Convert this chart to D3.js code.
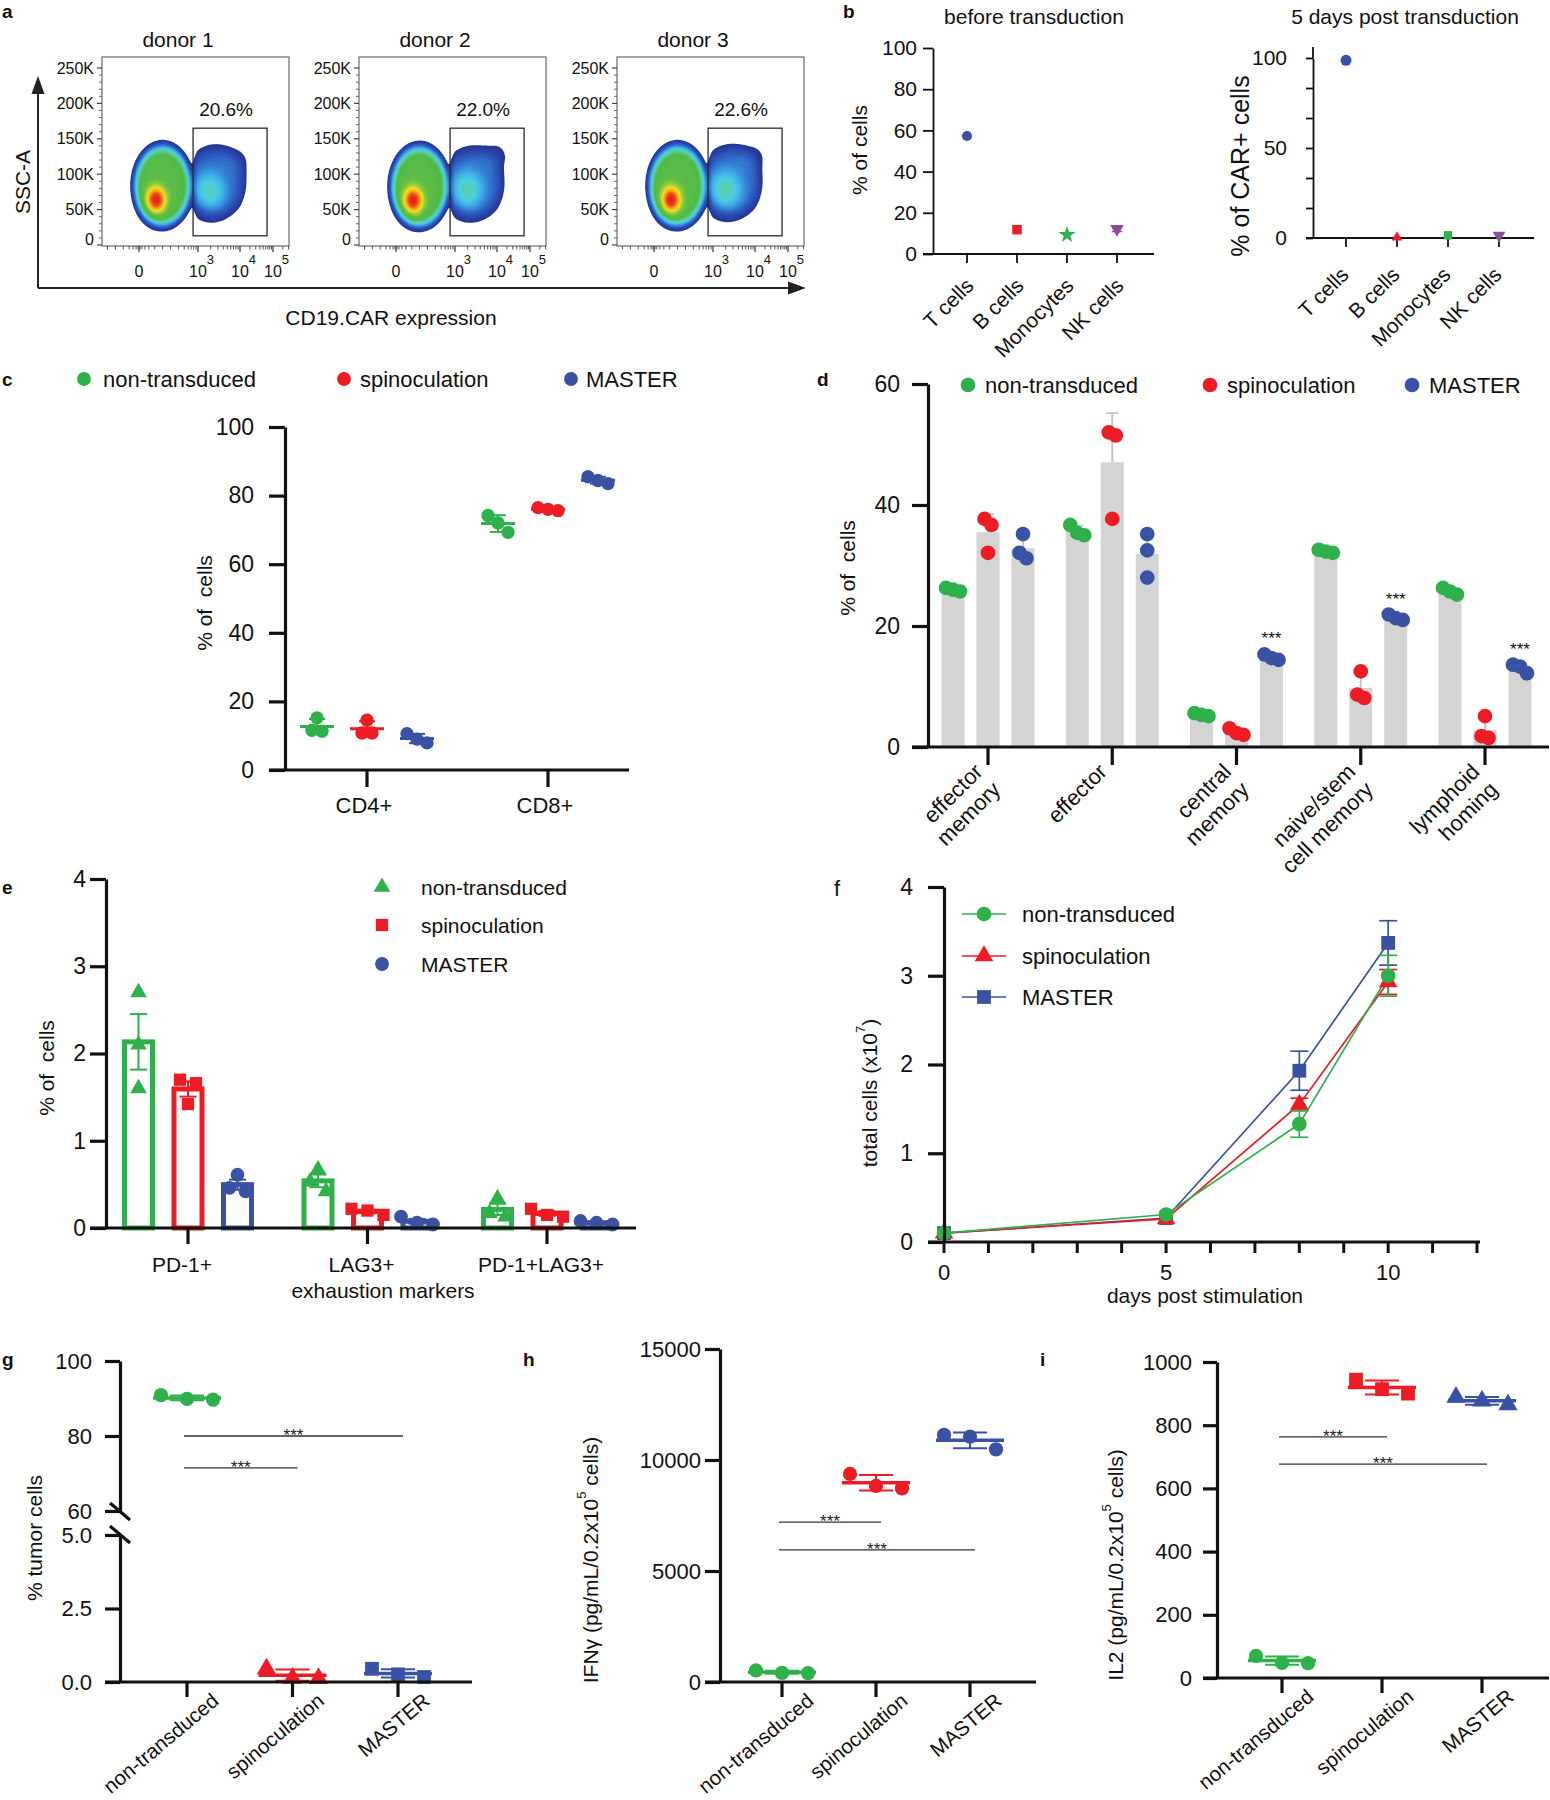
<!DOCTYPE html>
<html><head><meta charset="utf-8">
<script src="https://cdn.jsdelivr.net/npm/d3@7/dist/d3.min.js"></script>
<style>html,body{margin:0;padding:0;background:#fff}svg{display:block}</style>
</head><body>
<svg id="fig" width="1550" height="1800" xmlns="http://www.w3.org/2000/svg"></svg>
<script>
// ======================= DATA =======================
// (a) flow cytometry: SSC-A (K) vs CD19.CAR (display decades)
const donors = ["donor 1", "donor 2", "donor 3"];
const gatePercents = ["20.6%", "22.0%", "22.6%"];
const flowYTicks = [0, 50, 100, 150, 200, 250];
const flowYTickLabels = ["0", "50K", "100K", "150K", "200K", "250K"];
const flowXTicks = [0, 3, 4, 5];
const flowXTickBase = ["0", "10", "10", "10"];
const flowXTickExp = ["", "3", "4", "5"];
const flowGateX = [2.75, 4.82];
const flowGateY = [13, 165];
// populations per donor: [negative body, negative core, CAR+ body, CAR+ core, CAR+ upper shoulder]
const flowPopX  = [[1.20, 0.87, 3.42, 3.28, 3.90], [1.20, 0.87, 3.44, 3.30, 3.95], [1.20, 0.87, 3.44, 3.30, 3.92]];
const flowPopY  = [[84, 64, 90, 76, 118], [83, 63, 88, 78, 124], [84, 64, 90, 78, 122]];
const flowPopSX = [[1.30, 0.40, 0.62, 0.28, 0.25], [1.30, 0.40, 0.63, 0.28, 0.22], [1.30, 0.40, 0.63, 0.28, 0.24]];
const flowPopSY = [[51, 15, 42, 20, 12], [51, 15, 42, 20, 12], [51, 15, 42, 20, 12]];
const flowPopW  = [[0.55, 0.50, 0.13, 0.22, 0.035], [0.55, 0.50, 0.135, 0.23, 0.05], [0.55, 0.50, 0.14, 0.23, 0.045]];
const flowPopQ  = [[8, 2, 6, 2, 2], [8, 2, 6, 2, 2], [8, 2, 6, 2, 2]];

// (b)
const bCategories = ["T cells", "B cells", "Monocytes", "NK cells"];
const bBeforeValues = [57.3, 11.8, 9.3, 12.2];
const bBeforeErrors = [0, 0, 0, 1.3];
const bAfterValues = [98.7, 0.3, 1.5, 1.5];
const bBeforeTicks = [0, 20, 40, 60, 80, 100];
const bAfterLabelled = [0, 50, 100];

// (c) % CD4+/CD8+
const cCategories = ["CD4+", "CD8+"];
const cNonTransduced = [[15.2, 11.3, 11.6], [74.2, 69.3, 72.0]];
const cSpinoculation = [[14.5, 10.8, 10.8], [76.5, 75.6, 76.0]];
const cMaster = [[7.9, 10.6, 9.0], [83.5, 85.5, 84.4]];
const cTicks = [0, 20, 40, 60, 80, 100];

// (d) memory phenotypes
const dCategories = ["effector\nmemory", "effector", "central\nmemory", "naive/stem\ncell memory", "lymphoid\nhoming"];
const dNonTransduced = [[26.0, 26.3, 25.7], [36.7, 35.4, 35.0], [5.6, 5.3, 5.1], [32.6, 32.3, 32.1], [26.3, 25.7, 25.2]];
const dSpinoculation = [[37.7, 36.7, 32.1], [52.0, 51.5, 37.7], [3.1, 2.3, 2.0], [12.5, 8.65, 8.1], [5.1, 1.8, 1.5]];
const dMaster = [[35.2, 32.1, 31.2], [35.2, 32.5, 28.0], [15.3, 14.7, 14.4], [21.9, 21.3, 21.0], [12.2, 13.6, 13.3]];
const dMasterSignificant = [false, false, true, true, true];
const dTicks = [0, 20, 40, 60];

// (e) exhaustion markers
const eCategories = ["PD-1+", "LAG3+", "PD-1+LAG3+"];
const eNonTransduced = [[2.70, 2.10, 1.60], [0.67, 0.53, 0.42], [0.34, 0.17, 0.13]];
const eSpinoculation = [[1.70, 1.66, 1.42], [0.22, 0.20, 0.15], [0.22, 0.15, 0.13]];
const eMaster = [[0.61, 0.46, 0.42], [0.13, 0.06, 0.04], [0.08, 0.06, 0.04]];
const eTicks = [0, 1, 2, 3, 4];

// (f) expansion
const fDays = [0, 5, 8, 10];
const fNonTransduced = [0.10, 0.31, 1.33, 3.00];
const fNonTransducedErr = [0, 0.02, 0.15, 0.23];
const fSpinoculation = [0.10, 0.26, 1.55, 2.93];
const fSpinoculationErr = [0, 0.02, 0.07, 0.14];
const fMaster = [0.10, 0.27, 1.93, 3.37];
const fMasterErr = [0, 0.02, 0.22, 0.25];
const fYTicks = [0, 1, 2, 3, 4];
const fXLabelled = [0, 5, 10];

// (g)(h)(i)
const ghiCategories = ["non-transduced", "spinoculation", "MASTER"];
const gValues = [[89.7, 90.9, 89.9], [0.13, 0.45, 0.12], [0.17, 0.45, 0.26]];
const gTopTicks = [60, 80, 100];
const gBottomTicks = [0, 2.5, 5];
const gSigFrom = [0, 0], gSigTo = [2, 1], gSigY = [80, 71.5];
const hValues = [[400, 520, 410], [9370, 8720, 8830], [10480, 11130, 11050]];
const hTicks = [0, 5000, 10000, 15000];
const hSigFrom = [0, 0], hSigTo = [1, 2], hSigY = [7200, 5950];
const iValues = [[47, 70, 48], [944, 900, 914], [865, 889, 877]];
const iTicks = [0, 200, 400, 600, 800, 1000];
const iSigFrom = [0, 0], iSigTo = [1, 2], iSigY = [763, 677];

const seriesNames = ["non-transduced", "spinoculation", "MASTER"];

// ======================= DRAWING =======================
const svg = d3.select("#fig");
const FONT = "'Liberation Sans', Arial, Helvetica, sans-serif";
svg.attr("font-family", FONT);
svg.append("rect").attr("width", 1550).attr("height", 1800).attr("fill", "#fff");
const GREEN = "#2eb14b", RED = "#ed1c24", BLUE = "#3a52a3", PURPLE = "#8c4f9f", BARGRAY = "#d4d4d4", INK = "#111";
const SC = [GREEN, RED, BLUE];
const intFmt = d3.format("d");

function text(g, t, x, y, o = {}) {
  return g.append("text").attr("x", x).attr("y", y).attr("font-size", o.fs || 21)
    .attr("fill", o.fill || INK).attr("text-anchor", o.anchor || "start")
    .attr("font-weight", o.bold ? "bold" : "normal").style("white-space", "pre").text(t);
}
function vLabel(parts, cx, cy, fs) {
  const t = svg.append("text").attr("transform", `translate(${cx},${cy}) rotate(-90)`)
    .attr("text-anchor", "middle").attr("dominant-baseline", "central")
    .attr("font-size", fs).attr("fill", INK).style("white-space", "pre");
  let shift = 0;
  parts.forEach(p => {
    if (typeof p === "string") { const ts = t.append("tspan").text(p); if (shift) { ts.attr("dy", shift); shift = 0; } }
    else { const s = fs * 0.42; t.append("tspan").attr("dy", -s).attr("font-size", fs * 0.62).text(p.sup); shift = s; }
  });
}
function rotText(g, x, y, angle, lines, fs, lh = 1.12) {
  const t = g.append("text").attr("transform", `translate(${x},${y}) rotate(${angle})`)
    .attr("text-anchor", "end").attr("font-size", fs).attr("fill", INK);
  lines.forEach((l, i) => t.append("tspan").attr("x", 0).attr("dy", i ? `${lh}em` : 0).text(l));
}
function leftAxis(scale, x, o) {
  const ax = d3.axisLeft(scale).tickValues(o.ticks).tickSize(o.len).tickSizeOuter(0).tickPadding(o.pad)
    .tickFormat(o.fmt || intFmt);
  const g = svg.append("g").attr("transform", `translate(${x},0)`).call(ax);
  g.attr("font-family", FONT).attr("font-size", o.fs).attr("color", INK);
  g.select(".domain").attr("stroke-width", o.sw);
  g.selectAll(".tick line").attr("stroke-width", o.sw);
  return g;
}
function hLine(g, x1, x2, y, sw, col = INK) {
  return g.append("line").attr("x1", x1).attr("x2", x2).attr("y1", y).attr("y2", y).attr("stroke", col).attr("stroke-width", sw);
}
function vLine(g, x, y1, y2, sw, col = INK) {
  return g.append("line").attr("x1", x).attr("x2", x).attr("y1", y1).attr("y2", y2).attr("stroke", col).attr("stroke-width", sw);
}
const SYM = { circle: d3.symbolCircle, square: d3.symbolSquare, triangle: d3.symbolTriangle, triangleDown: d3.symbolTriangle, star: d3.symbolStar };
function marker(g, type, x, y, area, color) {
  return g.append("path").attr("d", d3.symbol(SYM[type], area)()).attr("fill", color)
    .attr("transform", `translate(${x},${y})` + (type === "triangleDown" ? " rotate(180)" : ""));
}
function swarm(vals, yS, spread, thresh) {
  const pts = vals.map((v, i) => ({ v, i, py: yS(v) })).sort((a, b) => a.py - b.py);
  const groups = [];
  pts.forEach(p => { const gg = groups[groups.length - 1]; if (gg && p.py - gg[gg.length - 1].py < thresh) gg.push(p); else groups.push([p]); });
  const off = new Array(vals.length).fill(0);
  groups.forEach(gg => gg.forEach((p, j) => off[p.i] = (j - (gg.length - 1) / 2) * spread));
  return off;
}
function dotGroup(g, vals, x, yS, color, type, area, o) {
  const offs = swarm(vals, yS, o.spread, o.thresh);
  vals.forEach((v, i) => marker(g, type, x + offs[i], yS(v), area, color));
  const m = d3.mean(vals), sd = d3.deviation(vals);
  hLine(g, x - o.meanHalf, x + o.meanHalf, yS(m), o.meanW, color);
  vLine(g, x, yS(m - sd), yS(m + sd), o.sdW, color);
  hLine(g, x - o.capHalf, x + o.capHalf, yS(m + sd), o.sdW, color);
  hLine(g, x - o.capHalf, x + o.capHalf, yS(m - sd), o.sdW, color);
}
function panelLetter(t, x, y, bold = true, fs = 19) { text(svg, t, x, y, { fs, bold }); }

// ---------------- (a) ----------------
{
  panelLetter("a", 2, 18);
  const lefts = [102, 359, 617], top = 57, W = 187, H = 189;
  const xDom = [-1.88, 0, 3, 4, 5, 5.49], xRel = [0, 37, 96, 138, 171, 187];
  const stops = [0.02, 0.06, 0.11, 0.17, 0.23, 0.29, 0.36, 0.45, 0.58, 0.68, 0.76, 0.84, 0.92, 1.0];
  const cols = ["#26379a", "#2a47ab", "#2d5cc0", "#3486d8", "#3fb2e6", "#4ccde0", "#5fcf9a", "#4fba4a", "#5fbe45", "#9ccd3b", "#eee31f", "#f8a81c", "#ef4a1f", "#e2191b"];
  const dColor = d3.scaleLinear().domain(stops).range(cols).clamp(true);
  const y = d3.scaleLinear().domain([0, 250]).range([245, 68]);
  const minorY = d3.range(10, 260, 10).filter(v => v % 50 !== 0);
  const minorX = [-1.6, -1.2, -0.8, -0.5, -0.3, -0.15, -0.05, 0.05, 0.15, 0.3, 0.5, 0.8, 1.2, 1.6, 2.0, 2.3, 2.5, 2.65, 2.78, 2.9]
    .concat(d3.range(2, 10).map(k => 3 + Math.log10(k)), d3.range(2, 10).map(k => 4 + Math.log10(k)), [5 + Math.log10(2), 5 + Math.log10(3)]);
  donors.forEach((name, k) => {
    const L = lefts[k];
    const x = d3.scaleLinear().domain(xDom).range(xRel.map(r => L + r));
    const g = svg.append("g");
    const vals = new Float64Array(W * H);
    for (let j = 0; j < H; j++) {
      const yy = y.invert(top + j + 0.5);
      for (let i = 0; i < W; i++) {
        const xx = x.invert(L + i + 0.5);
        let s = 0;
        for (let p = 0; p < flowPopX[k].length; p++) {
          const dx = (xx - flowPopX[k][p]) / flowPopSX[k][p], dy = (yy - flowPopY[k][p]) / flowPopSY[k][p];
          s += flowPopW[k][p] * Math.exp(-0.5 * Math.pow(dx * dx + dy * dy, flowPopQ[k][p] / 2));
        }
        vals[j * W + i] = s;
      }
    }
    const mx = d3.max(vals);
    for (let i = 0; i < vals.length; i++) vals[i] /= mx;
    const cs = d3.contours().size([W, H]).thresholds(d3.range(0.02, 0.99, 0.015))(vals);
    g.append("g").attr("transform", `translate(${L},${top})`).selectAll("path").data(cs).join("path")
      .attr("d", d3.geoPath()).attr("fill", d => dColor(d.value));
    g.append("rect").attr("x", L).attr("y", top).attr("width", W).attr("height", H).attr("fill", "none").attr("stroke", "#6a6a6a").attr("stroke-width", 1.2);
    flowYTicks.forEach((v, i) => {
      hLine(g, L - 5, L, y(v), 1.1, "#333");
      text(g, flowYTickLabels[i], L - 8, (v === 0 ? y(v) - 6 : y(v)) + 5.5, { fs: 16, anchor: "end" });
    });
    minorY.forEach(v => hLine(g, L - 3, L, y(v), 0.9, "#555"));
    const yb = top + H;
    flowXTicks.forEach((v, i) => {
      vLine(g, x(v), yb, yb + 6, 1.2, "#333");
      if (flowXTickExp[i]) {
        const t = g.append("text").attr("x", x(v) - 9).attr("y", 277).attr("font-size", 16).attr("fill", INK);
        t.append("tspan").text(flowXTickBase[i]);
        t.append("tspan").attr("dy", -13).attr("font-size", 13).text(flowXTickExp[i]);
      } else text(g, flowXTickBase[i], x(v), 277, { fs: 16, anchor: "middle" });
    });
    minorX.filter(v => v > xDom[0] && v < xDom[5]).forEach(v => vLine(g, x(v), yb, yb + 3.5, 0.9, "#444"));
    g.append("rect").attr("x", x(flowGateX[0])).attr("y", y(flowGateY[1]))
      .attr("width", x(flowGateX[1]) - x(flowGateX[0])).attr("height", y(flowGateY[0]) - y(flowGateY[1]))
      .attr("fill", "none").attr("stroke", "#2a2a2a").attr("stroke-width", 1.3);
    text(g, gatePercents[k], (x(flowGateX[0]) + x(flowGateX[1])) / 2 - 4, y(flowGateY[1]) - 12, { fs: 19, anchor: "middle" });
    text(g, name, L + 76, 47, { fs: 21, anchor: "middle" });
  });
  vLine(svg, 38, 288, 90, 2, "#222");
  svg.append("path").attr("d", "M38,76 L31.5,94 L44.5,94 Z").attr("fill", "#222");
  hLine(svg, 38, 792, 288, 2, "#222");
  svg.append("path").attr("d", "M806,288 L788,281.5 L788,294.5 Z").attr("fill", "#222");
  vLabel(["SSC-A"], 22, 182, 21);
  text(svg, "CD19.CAR expression", 391, 325, { fs: 21, anchor: "middle" });
}

// ---------------- (b) ----------------
{
  panelLetter("b", 843, 18);
  const g = svg.append("g");
  const y1 = d3.scaleLinear().domain([0, 100]).range([254, 48]);
  const x1 = d3.scalePoint().domain(bCategories).range([967, 1117]);
  leftAxis(y1, 933, { ticks: bBeforeTicks, len: 10, pad: 6, fs: 21, sw: 1.8 });
  hLine(g, 923, 1154, 254, 1.8);
  const shapes1 = ["circle", "square", "star", "triangleDown"], areas1 = [80, 90, 90, 80];
  const colsB = [BLUE, RED, GREEN, PURPLE];
  bCategories.forEach((c, i) => {
    vLine(g, x1(c), 254, 263, 1.8);
    if (bBeforeErrors[i]) {
      vLine(g, x1(c), y1(bBeforeValues[i] - bBeforeErrors[i]), y1(bBeforeValues[i] + bBeforeErrors[i]), 1.5, colsB[i]);
      hLine(g, x1(c) - 5, x1(c) + 5, y1(bBeforeValues[i] + bBeforeErrors[i]), 1.5, colsB[i]);
      hLine(g, x1(c) - 5, x1(c) + 5, y1(bBeforeValues[i] - bBeforeErrors[i]), 1.5, colsB[i]);
    }
    marker(g, shapes1[i], x1(c), y1(bBeforeValues[i]), areas1[i], colsB[i]);
    rotText(g, x1(c) + 8, 254 + 33, -45, [c], 21);
  });
  text(g, "before transduction", 1034, 24, { fs: 21, anchor: "middle" });
  vLabel(["% of cells"], 859, 150, 21);
  const y2 = d3.scaleLinear().domain([0, 100]).range([238, 58]);
  const x2 = d3.scalePoint().domain(bCategories).range([1346, 1499]);
  leftAxis(y2, 1313, { ticks: d3.range(7).map(i => i * 100 / 6), len: 7, pad: 19, fs: 21, sw: 1.8,
    fmt: d => bAfterLabelled.includes(Math.round(d)) ? Math.round(d) : "" });
  vLine(g, 1313, 58, 47, 1.8);
  hLine(g, 1306, 1534, 238, 1.8);
  const shapes2 = ["circle", "triangle", "square", "triangleDown"], areas2 = [95, 50, 70, 70];
  bCategories.forEach((c, i) => {
    vLine(g, x2(c), 238, 247, 1.8);
    marker(g, shapes2[i], x2(c), y2(bAfterValues[i]), areas2[i], colsB[i]);
    rotText(g, x2(c) + 4, 238 + 38, -45, [c], 21);
  });
  text(g, "5 days post transduction", 1405, 24, { fs: 21, anchor: "middle" });
  vLabel(["% of CAR+ cells"], 1240, 166, 25);
}

// ---------------- (c) ----------------
{
  panelLetter("c", 2, 386);
  const g = svg.append("g");
  const yS = d3.scaleLinear().domain([0, 100]).range([770, 427]);
  const xS = d3.scalePoint().domain(cCategories).range([367, 548]);
  const off = [-50, 0, 50];
  [cNonTransduced, cSpinoculation, cMaster].forEach((ser, s) => ser.forEach((vals, ci) => {
    dotGroup(g, vals, xS(cCategories[ci]) + off[s], yS, SC[s], "circle", 140,
      { spread: 10, thresh: 12, meanHalf: 17, capHalf: 8, meanW: 3, sdW: 2 });
  }));
  leftAxis(yS, 285, { ticks: cTicks, len: 16, pad: 15, fs: 23, sw: 3.2 });
  hLine(g, 269, 629, 770, 3.2);
  cCategories.forEach(c => { vLine(g, xS(c), 770, 787, 3.2); text(g, c, xS(c) - 3, 813, { fs: 22, anchor: "middle" }); });
  vLabel(["% of  cells"], 204, 603, 21);
  const lx = [84, 344, 571], tx = [103, 360, 586];
  seriesNames.forEach((n, s) => { marker(g, "circle", lx[s], 379, 150, SC[s]); text(g, n, tx[s], 387, { fs: 22 }); });
}

// ---------------- (d) ----------------
{
  panelLetter("d", 817, 386);
  const g = svg.append("g");
  const yS = d3.scaleLinear().domain([0, 60]).range([747, 384]);
  const xS = d3.scalePoint().domain(dCategories).range([988, 1485]);
  const off = [-35, 0, 35], bw = 23;
  const series = [dNonTransduced, dSpinoculation, dMaster];
  series.forEach((ser, s) => ser.forEach((vals, ci) => {
    const cx = xS(dCategories[ci]) + off[s], m = d3.mean(vals), sd = d3.deviation(vals);
    g.append("rect").attr("x", cx - bw / 2).attr("y", yS(m)).attr("width", bw).attr("height", yS(0) - yS(m)).attr("fill", BARGRAY);
    vLine(g, cx, yS(m), yS(m + sd), 2, "#c6c6c6");
    hLine(g, cx - 6, cx + 6, yS(m + sd), 2, "#c6c6c6");
  }));
  series.forEach((ser, s) => ser.forEach((vals, ci) => {
    const cx = xS(dCategories[ci]) + off[s];
    const offs = swarm(vals, yS, 7, 14);
    vals.forEach((v, i) => marker(g, "circle", cx + offs[i], yS(v), 170, SC[s]));
    if (s === 2 && dMasterSignificant[ci]) text(g, "***", cx, yS(d3.max(vals) + 3.3) + 10, { fs: 17, anchor: "middle" });
  }));
  leftAxis(yS, 928, { ticks: dTicks, len: 16, pad: 12, fs: 23, sw: 3.2 });
  hLine(g, 912, 1549, 747, 3.2);
  dCategories.forEach(c => { vLine(g, xS(c), 747, 765, 3.2); rotText(g, xS(c) - 4, 747 + 26, -45, c.split("\n"), 22, 1.15); });
  vLabel(["% of  cells"], 847, 568, 21);
  const lx = [968, 1210, 1412], tx = [985, 1227, 1429];
  seriesNames.forEach((n, s) => { marker(g, "circle", lx[s], 385, 170, SC[s]); text(g, n, tx[s], 393, { fs: 22 }); });
}

// ---------------- (e) ----------------
{
  panelLetter("e", 2, 894);
  const g = svg.append("g");
  const yS = d3.scaleLinear().domain([0, 4]).range([1228, 879]);
  const xS = d3.scalePoint().domain(eCategories).range([188, 547]);
  const off = [-49.5, 0, 49.5], bw = 28;
  const series = [eNonTransduced, eSpinoculation, eMaster];
  const shapes = ["triangle", "square", "circle"], areas = [120, 150, 150];
  series.forEach((ser, s) => ser.forEach((vals, ci) => {
    const cx = xS(eCategories[ci]) + off[s], m = d3.mean(vals);
    g.append("rect").attr("x", cx - bw / 2).attr("y", yS(m)).attr("width", bw).attr("height", yS(0) - yS(m))
      .attr("fill", "none").attr("stroke", SC[s]).attr("stroke-width", 5);
  }));
  series.forEach((ser, s) => ser.forEach((vals, ci) => {
    const cx = xS(eCategories[ci]) + off[s], m = d3.mean(vals), sem = d3.deviation(vals) / Math.sqrt(vals.length);
    const offs = swarm(vals, yS, 16, 12);
    vals.forEach((v, i) => marker(g, shapes[s], cx + offs[i], yS(v), areas[s], SC[s]));
    vLine(g, cx, yS(m - sem), yS(m + sem), 2, SC[s]);
    hLine(g, cx - 8.5, cx + 8.5, yS(m + sem), 2, SC[s]);
    hLine(g, cx - 8.5, cx + 8.5, yS(m - sem), 2, SC[s]);
  }));
  leftAxis(yS, 106, { ticks: eTicks, len: 16, pad: 4, fs: 23, sw: 3.2 });
  hLine(g, 90, 636, 1228, 3.2);
  eCategories.forEach(c => { vLine(g, xS(c), 1228, 1244, 3.2); text(g, c, xS(c) - 6, 1272, { fs: 21, anchor: "middle" }); });
  text(g, "exhaustion markers", 383, 1298, { fs: 21, anchor: "middle" });
  vLabel(["% of  cells"], 46, 1068, 21);
  const ly = [887, 925, 964];
  seriesNames.forEach((n, s) => { marker(g, shapes[s], 382, ly[s], areas[s], SC[s]); text(g, n, 421, ly[s] + 8, { fs: 21 }); });
}

// ---------------- (f) ----------------
{
  panelLetter("f", 834, 896, false, 22);
  const g = svg.append("g");
  const yS = d3.scaleLinear().domain([0, 4]).range([1242, 887]);
  const xS = d3.scaleLinear().domain([0, 12]).range([944, 1477]);
  const series = [fNonTransduced, fSpinoculation, fMaster], errs = [fNonTransducedErr, fSpinoculationErr, fMasterErr];
  const shapes = ["circle", "triangle", "square"], areas = [170, 150, 190];
  const order = [2, 1, 0];
  order.forEach(s => {
    const pts = fDays.map((d, i) => [d, series[s][i]]);
    g.append("path").attr("d", d3.line().x(p => xS(p[0])).y(p => yS(p[1]))(pts)).attr("fill", "none").attr("stroke", SC[s]).attr("stroke-width", 1.7);
    fDays.forEach((d, i) => {
      const e = errs[s][i];
      if (e > 0.03) {
        vLine(g, xS(d), yS(series[s][i] - e), yS(series[s][i] + e), 1.7, SC[s]);
        hLine(g, xS(d) - 9, xS(d) + 9, yS(series[s][i] + e), 1.7, SC[s]);
        hLine(g, xS(d) - 9, xS(d) + 9, yS(series[s][i] - e), 1.7, SC[s]);
      }
    });
  });
  order.forEach(s => fDays.forEach((d, i) => marker(g, shapes[s], xS(d), yS(series[s][i]), areas[s], SC[s])));
  leftAxis(yS, 944, { ticks: fYTicks, len: 16, pad: 15, fs: 23, sw: 3.2 });
  hLine(g, 928, 1480, 1242, 3.2);
  d3.range(0, 13).forEach(d => vLine(g, xS(d), 1242, 1253, 3));
  fXLabelled.forEach(d => text(g, String(d), xS(d), 1280, { fs: 22, anchor: "middle" }));
  text(g, "days post stimulation", 1205, 1303, { fs: 21, anchor: "middle" });
  vLabel(["total cells (x10", { sup: "7" }, ")"], 869, 1093, 21);
  const ly = [914, 956, 997];
  seriesNames.forEach((n, s) => {
    hLine(g, 962, 1006, ly[s], 1.7, SC[s]);
    marker(g, shapes[s], 984, ly[s], areas[s], SC[s]);
    text(g, n, 1022, ly[s] + 8, { fs: 22 });
  });
}

// ---------------- (g)(h)(i) ----------------
const ghiOpts = { spread: 26, thresh: 14, meanHalf: 34, capHalf: 17, meanW: 3.5, sdW: 2 };
function sigLines(g, xS, yS, from, to, ys) {
  from.forEach((f, k) => {
    const x1 = xS(ghiCategories[f]) - 3, x2 = xS(ghiCategories[to[k]]) + 5, yy = yS(ys[k]);
    hLine(g, x1, x2, yy, 1.3, "#333");
    text(g, "***", (x1 + x2) / 2, yy + 5, { fs: 17, anchor: "middle", fill: "#222" });
  });
}
function ghiLabels(g, xS, axisY) {
  ghiCategories.forEach(c => { vLine(g, xS(c), axisY, axisY + 15, 3.2); rotText(g, xS(c) + 33, axisY + 21, -40, [c], 20.5); });
}
{
  panelLetter("g", 2, 1366);
  const g = svg.append("g");
  const yTop = d3.scaleLinear().domain([60, 100]).range([1511, 1361]);
  const yBot = d3.scaleLinear().domain([0, 5]).range([1682, 1535]);
  const yS = v => v >= 30 ? yTop(v) : yBot(v);
  const xS = d3.scalePoint().domain(ghiCategories).range([187, 398]);
  const shapes = ["circle", "triangle", "square"], areas = [160, 160, 190];
  gValues.forEach((vals, s) => dotGroup(g, vals, xS(ghiCategories[s]), yS, SC[s], shapes[s], areas[s], ghiOpts));
  leftAxis(yTop, 120, { ticks: gTopTicks, len: 15, pad: 13, fs: 22, sw: 3.2 });
  leftAxis(yBot, 120, { ticks: gBottomTicks, len: 15, pad: 13, fs: 22, sw: 3.2, fmt: d3.format(".1f") });
  g.append("line").attr("x1", 110).attr("y1", 1503).attr("x2", 130).attr("y2", 1520).attr("stroke", INK).attr("stroke-width", 3.2);
  g.append("line").attr("x1", 110).attr("y1", 1526).attr("x2", 130).attr("y2", 1543).attr("stroke", INK).attr("stroke-width", 3.2);
  hLine(g, 105, 472, 1682, 3.2);
  ghiLabels(g, xS, 1682);
  sigLines(g, xS, yS, gSigFrom, gSigTo, gSigY);
  vLabel(["% tumor cells"], 34, 1538, 21);
}
{
  panelLetter("h", 523, 1366);
  const g = svg.append("g");
  const yS = d3.scaleLinear().domain([0, 15000]).range([1682, 1349]);
  const xS = d3.scalePoint().domain(ghiCategories).range([782, 970]);
  hValues.forEach((vals, s) => dotGroup(g, vals, xS(ghiCategories[s]), yS, SC[s], "circle", 160, ghiOpts));
  leftAxis(yS, 720, { ticks: hTicks, len: 15, pad: 4, fs: 22, sw: 3.2 });
  hLine(g, 705, 1036, 1682, 3.2);
  ghiLabels(g, xS, 1682);
  sigLines(g, xS, yS, hSigFrom, hSigTo, hSigY);
  vLabel(["IFNγ (pg/mL/0.2x10", { sup: "5" }, " cells)"], 590, 1560, 21);
}
{
  panelLetter("i", 1040, 1366);
  const g = svg.append("g");
  const yS = d3.scaleLinear().domain([0, 1000]).range([1678, 1362]);
  const xS = d3.scalePoint().domain(ghiCategories).range([1282, 1482]);
  const shapes = ["circle", "square", "triangle"], areas = [160, 190, 160];
  iValues.forEach((vals, s) => dotGroup(g, vals, xS(ghiCategories[s]), yS, SC[s], shapes[s], areas[s], ghiOpts));
  leftAxis(yS, 1217, { ticks: iTicks, len: 14, pad: 11, fs: 22, sw: 3.2 });
  hLine(g, 1203, 1549, 1678, 3.2);
  ghiLabels(g, xS, 1678);
  sigLines(g, xS, yS, iSigFrom, iSigTo, iSigY);
  vLabel(["IL2 (pg/mL/0.2x10", { sup: "5" }, " cells)"], 1115, 1565, 21);
}
</script>
</body></html>
